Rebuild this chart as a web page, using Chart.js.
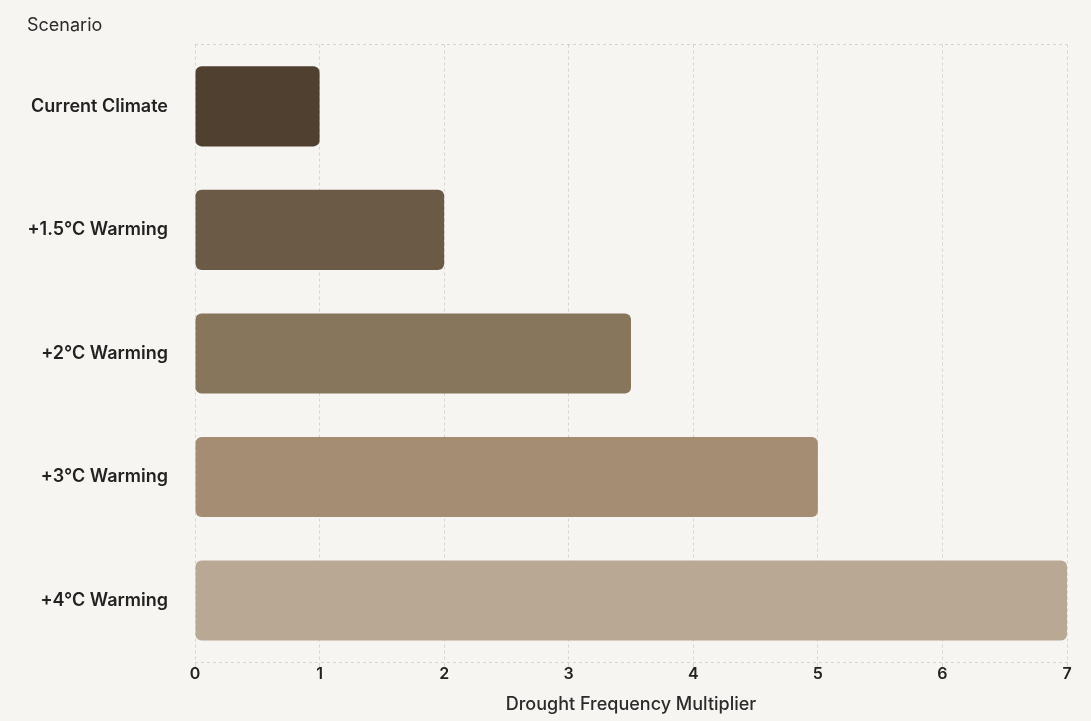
<!DOCTYPE html>
<html>
<head>
<meta charset="utf-8">
<script src="https://cdn.jsdelivr.net/npm/chart.js@4"></script>
<style>
  html, body { margin: 0; padding: 0; background: #f7f5f1; }
  #wrap { width: 1091px; height: 721px; }
</style>
</head>
<body>
<div id="wrap"><canvas id="droughtChart"></canvas></div>
<script>
var scenarios = ["Current Climate", "+1.5°C Warming", "+2°C Warming", "+3°C Warming", "+4°C Warming"];
var multipliers = [1, 2, 3.5, 5, 7];
var barColors = ["#4f4030", "#6b5a46", "#87755c", "#a48d73", "#b9a893"];
var xTicks = [0, 1, 2, 3, 4, 5, 6, 7];

var gridColor = "rgba(0,0,0,0.13)";

// the axis border line ignores border.dash, so dash the whole canvas while scales draw
var dashedBorder = {
    id: "dashedBorder",
    beforeDraw: function (chart) {
        chart.ctx.setLineDash([3, 3]);
    },
    afterDraw: function (chart) {
        chart.ctx.setLineDash([]);
    },
};

new Chart(document.getElementById("droughtChart"), {
    type: "bar",
    data: {
        labels: scenarios,
        datasets: [
            {
                label: "Drought Frequency Multiplier",
                data: multipliers,
                backgroundColor: barColors,
                borderRadius: 6,
                borderSkipped: false,
                barPercentage: 0.72,
                categoryPercentage: 0.9,
            },
        ],
    },
    options: {
        indexAxis: "y",
        responsive: true,
        maintainAspectRatio: false,
        animation: false,
        layout: { padding: { left: 27, right: 24, top: 15, bottom: 6 } },
        plugins: {
            legend: { display: false },
            tooltip: { enabled: false },
            title: {
                display: true,
                text: "Scenario",
                align: "start",
                color: "#2b2b2b",
                font: { family: "Inter", size: 18, weight: "normal" },
                padding: { top: 0, bottom: 8 },
            },
        },
        scales: {
            x: {
                min: 0,
                max: 7,
                afterBuildTicks: function (axis) {
                    axis.ticks = xTicks.map(function (v) { return { value: v }; });
                },
                grid: {
                    color: gridColor,
                    lineWidth: 1,
                    tickLength: 6,
                },
                border: { display: true, color: gridColor, dash: [3, 3] },
                ticks: {
                    color: "#222",
                    padding: -4,
                    font: { family: "Inter", size: 16, weight: "600" },
                },
                title: {
                    display: true,
                    text: "Drought Frequency Multiplier",
                    color: "#2b2b2b",
                    font: { family: "Inter", size: 18, weight: "500" },
                    padding: { top: 14, bottom: 0 },
                },
            },
            y: {
                afterFit: function (axis) {
                    axis.width = 168;
                },
                grid: {
                    offset: true,
                    drawTicks: false,
                    color: function (ctx) {
                        return ctx.index === 0 ? gridColor : "transparent";
                    },
                },
                border: { display: false, dash: [3, 3] },
                ticks: {
                    color: "#222",
                    padding: 27,
                    font: { family: "Inter", size: 18, weight: "600" },
                },
            },
        },
    },
    plugins: [dashedBorder],
});
</script>
</body>
</html>
